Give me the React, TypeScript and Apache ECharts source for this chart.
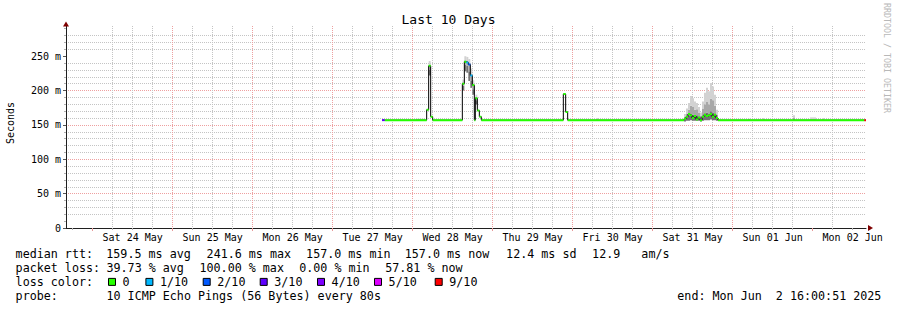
import React, { useEffect, useRef } from "react";
import * as echarts from "echarts";

const FONT = '"DejaVu Sans Mono", monospace';

// x axis: hours since Fri 2025-05-23 00:00 (graph spans 10 days ending Mon Jun 2 16:00)
const startHour = 16;
const endHour = 256;
const dayLabels = [
  "Sat 24 May", "Sun 25 May", "Mon 26 May", "Tue 27 May", "Wed 28 May",
  "Thu 29 May", "Fri 30 May", "Sat 31 May", "Sun 01 Jun", "Mon 02 Jun",
];
const yMaxMs = 294;
const yLabelValues = [0, 50, 100, 150, 200, 250];

const lossColors = ["#26ff00", "#00b8ff", "#0059ff", "#5e00ff", "#7e00ff", "#dd00ff", "#ff0000"];
const lossLabels = ["0", "1/10", "2/10", "3/10", "4/10", "5/10", "9/10"];

// median rtt (ms) step points: start hour, value, loss colour index
const medianHour = [
  110.8, 111.6, 124.2, 124.8, 125.4, 126.0, 134.9, 135.5, 136.1, 136.7,
  137.3, 137.9, 138.5, 138.8, 139.4, 140.0, 140.6, 165.2, 165.9, 166.5,
  201.4, 202.0, 202.6, 203.2, 203.8, 204.4, 205.0, 205.6, 206.2, 206.8,
  207.4, 208.0, 208.6, 209.2, 209.8, 210.4, 211.0, 211.6, 255.5,
];
const medianRtt = [
  157, 157, 172, 236, 162, 157, 210, 242, 241, 238,
  222, 208, 157, 189, 171, 162, 157, 195, 169, 157,
  159, 162, 166, 164, 160, 163, 158, 161, 157, 162,
  165, 163, 164, 166, 162, 165, 160, 157, 157,
];
const medianLoss = [
  3, 0, 0, 0, 0, 0, 0, 0, 1, 2,
  1, 0, 0, 0, 0, 0, 0, 0, 0, 0,
  0, 0, 0, 0, 0, 0, 0, 0, 0, 0,
  0, 0, 0, 0, 0, 0, 0, 0, 6,
];

// smoke columns (ms): from hour, to hour, low, dark band top, mid band top, high
const smokeFrom = [
  124.8, 134.9, 135.5, 136.1, 136.7, 137.3, 137.9, 138.8,
  201.4, 202.0, 202.6, 203.2, 203.8, 204.4, 205.0, 205.6, 206.2,
  206.8, 207.4, 208.0, 208.6, 209.2, 209.8, 210.4, 211.0,
  121.0, 175.0, 220.6, 225.1, 234.1, 239.2, 242.8,
];
const smokeTo = [
  125.4, 135.5, 136.1, 136.7, 137.3, 137.9, 138.5, 139.4,
  202.0, 202.6, 203.2, 203.8, 204.4, 205.0, 205.6, 206.2, 206.8,
  207.4, 208.0, 208.6, 209.2, 209.8, 210.4, 211.0, 211.6,
  123.7, 175.6, 221.2, 225.7, 234.7, 241.0, 243.4,
];
const smokeLow = [
  222, 200, 228, 226, 214, 204, 194, 180,
  155, 156, 156, 157, 156, 156, 156, 156, 155,
  156, 157, 157, 157, 158, 157, 157, 156,
  157, 157, 157, 157, 157, 157, 157,
];
const smokeDark = [
  230, 207, 238, 236, 228, 214, 202, 186,
  158, 160, 163, 166, 165, 163, 164, 162, 159,
  164, 167, 168, 166, 170, 168, 165, 160,
  157, 157, 157, 157, 157, 157, 157,
];
const smokeMid = [
  236, 212, 244, 243, 238, 224, 209, 190,
  162, 166, 172, 178, 176, 172, 173, 168, 163,
  174, 180, 184, 180, 188, 186, 178, 165,
  157.5, 158, 158, 158, 160, 158, 158,
];
const smokeHigh = [
  243, 216, 250, 249, 246, 232, 215, 194,
  166, 174, 182, 192, 189, 184, 182, 176, 168,
  184, 197, 204, 199, 211, 206, 194, 172,
  159, 160, 159, 160, 164, 161, 160,
];

const titleText = "Last 10 Days";
const rttStats = ["159.5 ms avg", "241.6 ms max", "157.0 ms min", "157.0 ms now", "12.4 ms sd", "12.9   am/s"];
const lossStats = ["39.73 % avg", "100.00 % max", "0.00 % min", "57.81 % now"];
const probeText = "10 ICMP Echo Pings (56 Bytes) every 80s";
const endText = "end: Mon Jun  2 16:00:51 2025";

// layout (pixel positions of legend pieces)
const rttX = [106.3, 206.6, 306.1, 404.8, 506.1, 592.1];
const lossX = [106.5, 199.5, 299.2, 385.2];
const boxX = [108.3, 145.7, 203, 260, 317.3, 374.3, 435];
const rowY = [254, 268, 282, 296];
const LEG_FONT = `11.7px ${FONT}`;

function buildOption() {
  const noonHours = dayLabels.map((_, i) => 36 + 24 * i);
  const midnightHours = dayLabels.map((_, i) => 24 + 24 * i);
  const minorHours: number[] = [];
  for (let h = 18; h < endHour; h += 6) if (h % 24 !== 0) minorHours.push(h);
  const yMinor: number[] = [];
  for (let v = 10; v < yMaxMs; v += 10) if (v % 50 !== 0) yMinor.push(v);

  const blackData = medianHour.map((h, i) => [h, medianRtt[i]]);
  blackData.push([endHour, medianRtt[medianRtt.length - 1]]);

  const lossSeries = lossColors.map((color, level) => {
    const data: any[] = [];
    medianHour.forEach((h, i) => {
      if (medianLoss[i] !== level) return;
      const next = i + 1 < medianHour.length ? medianHour[i + 1] : endHour;
      data.push([h, medianRtt[i]], [next, medianRtt[i]], [next, "-"]);
    });
    return {
      type: "line",
      name: lossLabels[level],
      data,
      xAxisIndex: 0,
      yAxisIndex: 0,
      showSymbol: false,
      symbol: "none",
      connectNulls: false,
      silent: true,
      z: 5,
      lineStyle: { color, width: 2, cap: "butt" },
    };
  });

  const smokeData = smokeFrom.map((f, i) => [
    f, smokeTo[i], smokeLow[i], smokeDark[i], smokeMid[i], smokeHigh[i],
  ]);
  const smokeColors = ["#737373", "#a8a8a8", "#d2d2d2"];

  const baseX = {
    type: "value",
    min: startHour,
    max: endHour,
    position: "bottom",
    gridIndex: 0,
  };
  const baseY = {
    type: "value",
    min: 0,
    max: yMaxMs,
    position: "left",
    gridIndex: 0,
  };

  const graphics: any[] = [
    {
      type: "text", x: 448.5, y: 19,
      style: { text: titleText, font: `13px ${FONT}`, fill: "#000", align: "center", verticalAlign: "middle" },
    },
    {
      type: "text", x: 10, y: 123, rotation: Math.PI / 2,
      style: { text: "Seconds", font: `10px ${FONT}`, fill: "#000", align: "center", verticalAlign: "middle" },
    },
    {
      type: "text", x: 887, y: 58, rotation: -Math.PI / 2,
      style: { text: "RRDTOOL / TOBI OETIKER", font: `8.3px ${FONT}`, fill: "#b8b8b8", align: "center", verticalAlign: "middle" },
    },
    { type: "text", x: 15.6, y: rowY[0], style: { text: "median rtt:", font: LEG_FONT, fill: "#000", verticalAlign: "middle" } },
    { type: "text", x: 15.6, y: rowY[1], style: { text: "packet loss:", font: LEG_FONT, fill: "#000", verticalAlign: "middle" } },
    { type: "text", x: 15.6, y: rowY[2], style: { text: "loss color:", font: LEG_FONT, fill: "#000", verticalAlign: "middle" } },
    { type: "text", x: 15.6, y: rowY[3], style: { text: "probe:", font: LEG_FONT, fill: "#000", verticalAlign: "middle" } },
    { type: "text", x: 106.5, y: rowY[3], style: { text: probeText, font: LEG_FONT, fill: "#000", verticalAlign: "middle" } },
    { type: "text", x: 881.4, y: rowY[3], style: { text: endText, font: LEG_FONT, fill: "#000", align: "right", verticalAlign: "middle" } },
  ];
  rttStats.forEach((t, i) =>
    graphics.push({ type: "text", x: rttX[i], y: rowY[0], style: { text: t, font: LEG_FONT, fill: "#000", verticalAlign: "middle" } })
  );
  lossStats.forEach((t, i) =>
    graphics.push({ type: "text", x: lossX[i], y: rowY[1], style: { text: t, font: LEG_FONT, fill: "#000", verticalAlign: "middle" } })
  );
  lossColors.forEach((c, i) => {
    graphics.push({
      type: "rect",
      shape: { x: boxX[i] + 0.2, y: rowY[2] - 3.6, width: 7, height: 7 },
      style: { fill: c, stroke: "#000", lineWidth: 1 },
    });
    graphics.push({
      type: "text", x: boxX[i] + 14.3, y: rowY[2],
      style: { text: lossLabels[i], font: LEG_FONT, fill: "#000", verticalAlign: "middle" },
    });
  });

  return {
    animation: false,
    backgroundColor: "#ffffff",
    grid: { left: 66, top: 26, width: 800, height: 202, containLabel: false, outerBoundsMode: "none" },
    xAxis: [
      {
        ...baseX,
        axisLine: { show: true, onZero: false, lineStyle: { color: "#1f1f1f", width: 1 } },
        axisTick: { show: false },
        splitLine: { show: false },
        axisLabel: {
          show: true,
          customValues: noonHours,
          formatter: (v: number) => dayLabels[Math.round((v - 36) / 24)] ?? "",
          fontFamily: FONT,
          fontSize: 10,
          color: "#000",
          margin: 4,
        },
      },
      {
        ...baseX,
        axisLine: { show: false, onZero: false },
        axisLabel: { show: false },
        axisTick: { show: true, customValues: minorHours, length: 2, lineStyle: { color: "#b0b0b0" } },
        splitLine: { show: true, showMinLine: false, showMaxLine: false, lineStyle: { color: "#c4c4c4", type: [1, 1], width: 1 } },
      },
      {
        ...baseX,
        axisLine: { show: false, onZero: false },
        axisLabel: { show: false },
        axisTick: { show: true, customValues: midnightHours, length: 3, lineStyle: { color: "#e89a9a" } },
        splitLine: { show: true, showMinLine: false, showMaxLine: false, lineStyle: { color: "#eea0a0", type: [1, 1], width: 1 } },
      },
      {
        ...baseX,
        axisLine: {
          show: true, onZero: false,
          symbol: ["none", "triangle"], symbolSize: [6, 5], symbolOffset: [0, 4.5],
          lineStyle: { color: "#7f0000", width: 0 },
        },
        axisLabel: { show: false },
        axisTick: { show: false },
        splitLine: { show: false },
      },
    ],
    yAxis: [
      {
        ...baseY,
        axisLine: { show: true, onZero: false, lineStyle: { color: "#1f1f1f", width: 1 } },
        axisTick: { show: true, customValues: yLabelValues, length: 3, lineStyle: { color: "#555" } },
        axisLabel: {
          show: true,
          customValues: yLabelValues,
          formatter: (v: number) => (v === 0 ? "0" : `${v} m`),
          fontFamily: FONT,
          fontSize: 10,
          color: "#000",
          margin: 5,
        },
        splitLine: { show: true, showMinLine: false, showMaxLine: false, lineStyle: { color: "#eea0a0", type: [1, 1], width: 1 } },
      },
      {
        ...baseY,
        axisLine: { show: false, onZero: false },
        axisLabel: { show: false },
        axisTick: { show: true, customValues: yMinor, length: 2, lineStyle: { color: "#b0b0b0" } },
        splitLine: { show: true, showMinLine: false, showMaxLine: false, lineStyle: { color: "#c4c4c4", type: [1, 1], width: 1 } },
      },
      {
        ...baseY,
        axisLine: {
          show: true, onZero: false,
          symbol: ["none", "triangle"], symbolSize: [6, 5], symbolOffset: [0, 2],
          lineStyle: { color: "#7f0000", width: 0 },
        },
        axisLabel: { show: false },
        axisTick: { show: false },
        splitLine: { show: false },
      },
    ],
    series: [
      {
        type: "custom",
        name: "smoke",
        xAxisIndex: 0,
        yAxisIndex: 0,
        z: 2,
        silent: true,
        encode: { x: [0, 1], y: [2, 5] },
        data: smokeData,
        renderItem: (_params: any, api: any) => {
          const f = api.value(0);
          const t = api.value(1);
          const levels = [api.value(2), api.value(3), api.value(4), api.value(5)];
          const children: any[] = [];
          for (let k = 0; k < 3; k++) {
            const a = api.coord([f, levels[k + 1]]);
            const b = api.coord([t, levels[k]]);
            children.push({
              type: "rect",
              shape: { x: a[0], y: a[1], width: b[0] - a[0], height: b[1] - a[1] },
              style: { fill: smokeColors[k] },
            });
          }
          return { type: "group", children };
        },
      },
      {
        type: "line",
        name: "median",
        xAxisIndex: 0,
        yAxisIndex: 0,
        data: blackData,
        step: "end",
        showSymbol: false,
        symbol: "none",
        silent: true,
        z: 4,
        lineStyle: { color: "#000000", width: 1 },
      },
      ...lossSeries,
    ],
    graphic: { elements: graphics },
  };
}

export default function App() {
  const ref = useRef<HTMLDivElement>(null);
  useEffect(() => {
    if (!ref.current) return;
    const chart = echarts.init(ref.current, undefined, { renderer: "svg" });
    chart.setOption(buildOption() as any);
    return () => chart.dispose();
  }, []);
  return (
    <div
      ref={ref}
      style={{ position: "fixed", left: 0, top: 0, width: 897, height: 310, background: "#fff", whiteSpace: "pre" }}
    />
  );
}
